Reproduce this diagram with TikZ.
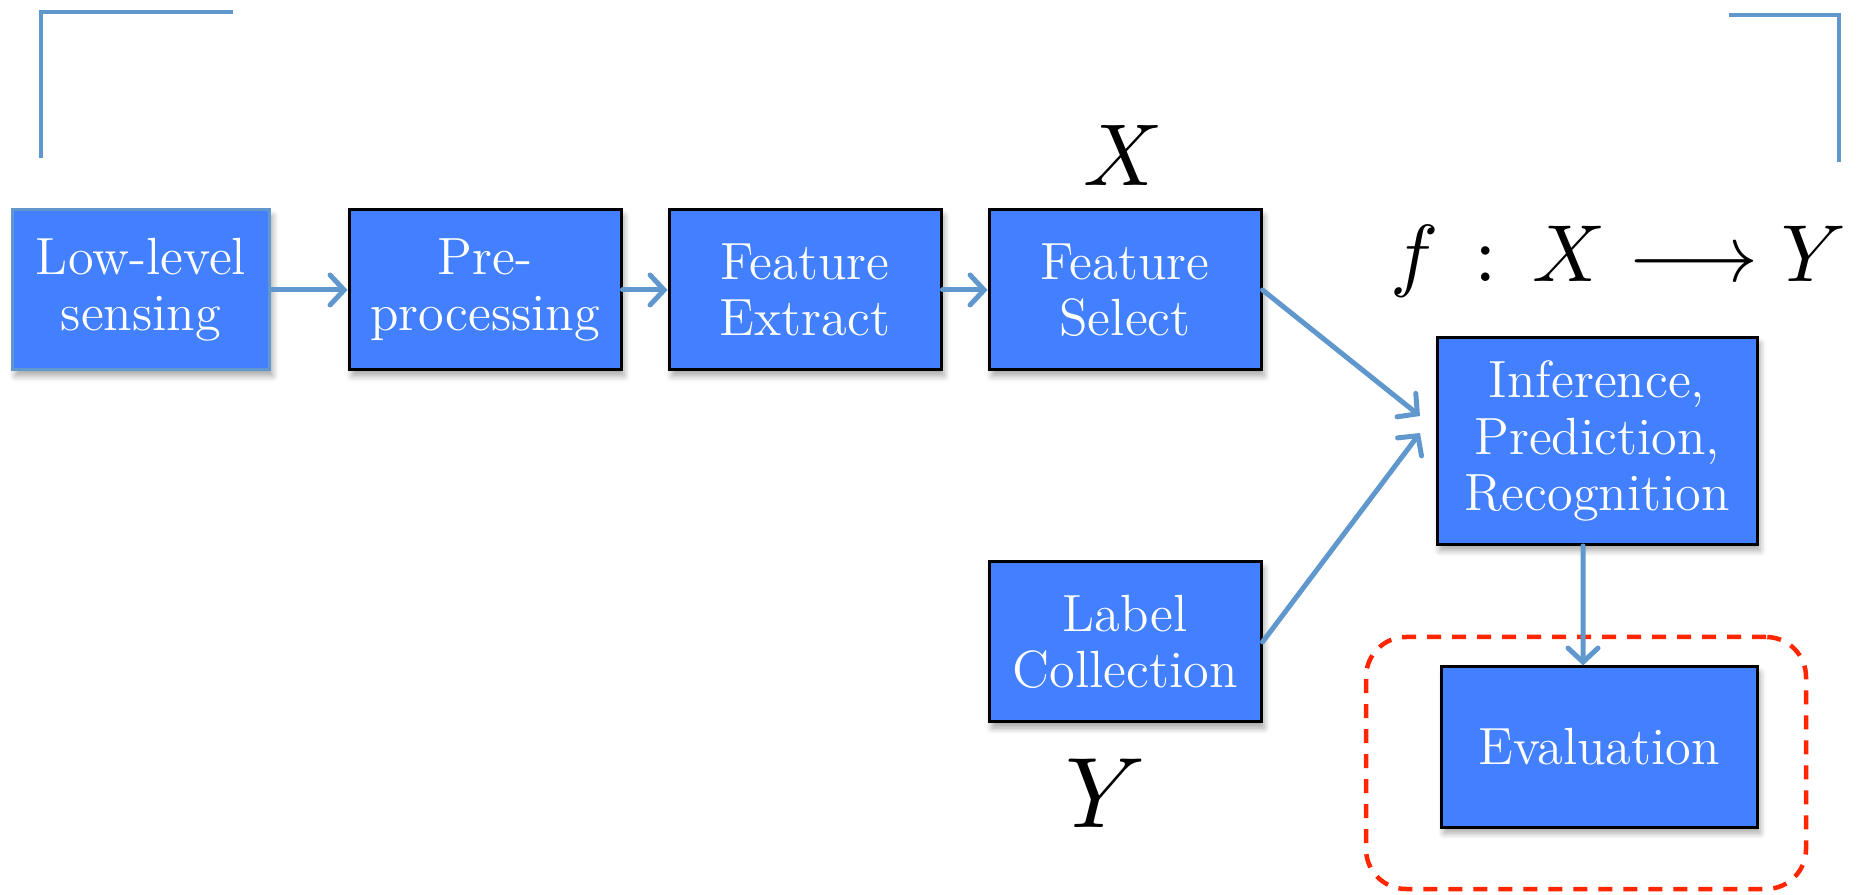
\documentclass[tikz,border=0pt]{standalone}
\usepackage{fontspec}
\usepackage{graphicx}
\usetikzlibrary{arrows.meta,shadows.blur}
\definecolor{boxblue}{RGB}{66,128,255}
\definecolor{linkblue}{RGB}{96,152,206}
\definecolor{dashred}{RGB}{255,38,0}
\begin{document}
\begin{tikzpicture}[x=0.1mm,y=-0.1mm,
  stage/.style={fill=boxblue, draw=black, line width=0.3mm, text=white, align=center,
    font=\fontsize{14.9}{16}\selectfont, inner sep=0pt,
    blur shadow={shadow xshift=0.3mm, shadow yshift=-0.6mm, shadow blur steps=6, shadow opacity=35}},
  link/.style={draw=linkblue, line width=0.5mm, line cap=round,
    -{Straight Barb[length=1.4mm,width=3mm,line cap=round]}},
  bracket/.style={draw=linkblue, line width=0.45mm},
  mathlbl/.style={inner sep=0pt, text=black},
  evalgroup/.style={draw=dashred, line width=0.45mm, dash pattern=on 1.4mm off 1.1mm,
    rounded corners=4mm, inner sep=0pt}]
\useasboundingbox (0,0) rectangle (1858,895);

% corner brackets
\draw[bracket] (41,158) -- (41,12) -- (233,12);
\draw[bracket] (1729,15) -- (1839,15) -- (1839,162);

% dashed group
\node[evalgroup, minimum width=44mm, minimum height=25.2mm] (grp) at (1586,763) {};

% boxes
\node[stage, draw=linkblue, minimum width=25.75mm, minimum height=16mm] (low) at (141,290) {Low-level\\sensing};
\node[stage, minimum width=27.2mm, minimum height=16mm] (pre) at (485,290) {Pre-\\processing};
\node[stage, minimum width=27.2mm, minimum height=16mm] (fe) at (805,290) {Feature\\Extract};
\node[stage, minimum width=27.2mm, minimum height=16mm] (fs) at (1125,290) {Feature\\Select};
\node[stage, minimum width=32mm, minimum height=20.7mm] (inf) at (1597,441) {Inference,\\Prediction,\\Recognition};
\node[stage, minimum width=27.2mm, minimum height=16mm] (lab) at (1125,642) {Label\\Collection};
\node[stage, minimum width=31.6mm, minimum height=16mm] (eval) at (1599,747) {Evaluation};

% math labels
\node[mathlbl] (xlbl) at (1123,155) {\scalebox{2.5}{$X$}};
\node[mathlbl] (ylbl) at (1106,793) {\scalebox{2.85}{$Y$}};
\node[mathlbl, anchor=base] (flbl) at (1618,282) {\scalebox{2.3}{$f\,:\,X \longrightarrow Y$}};

% connectors
\coordinate (t1) at (1420,416);
\coordinate (t2) at (1420,433);
\draw[link] (low.east) -- (pre.west);
\draw[link] (pre.east) -- (fe.west);
\draw[link] (fe.east) -- (fs.west);
\draw[link] (fs.east) -- (t1);
\draw[link] (lab.east) -- (t2);
\draw[link] ([xshift=-1.4mm]inf.south) -- ([xshift=-1.6mm]eval.north);
\end{tikzpicture}
\end{document}
